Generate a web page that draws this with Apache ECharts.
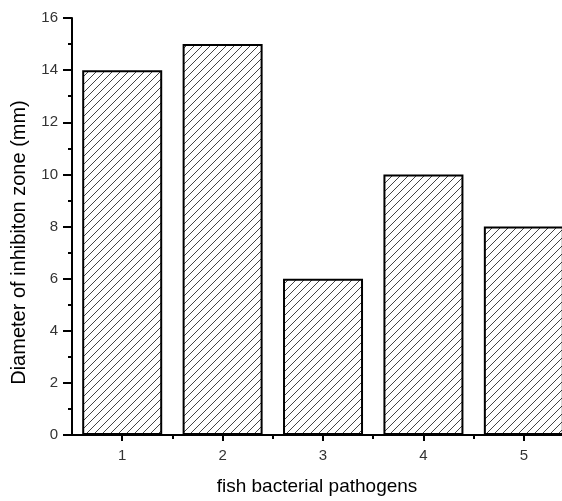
<!DOCTYPE html>
<html>
<head>
<meta charset="utf-8">
<script src="https://cdn.jsdelivr.net/npm/echarts@6/dist/echarts.min.js"></script>
<style>
  html, body { margin: 0; padding: 0; background: #fff; }
  #chart { width: 562px; height: 501px; }
</style>
</head>
<body>
<div id="chart"></div>
<script>
// pathogen number -> inhibition zone diameter (mm)
const pathogens = [1, 2, 3, 4, 5]
const zoneDiameter = [14, 15, 6, 10, 8]
const xMinorTicks = [1.5, 2.5, 3.5, 4.5]
const yTicks = { min: 0, max: 16, interval: 2 }

// hatch pattern for the bars
const makeHatch = () => {
  const size = 8
  const c = document.createElement('canvas')
  c.width = size
  c.height = size
  const ctx = c.getContext('2d')
  ctx.fillStyle = '#fff'
  ctx.fillRect(0, 0, size, size)
  ctx.strokeStyle = '#444'
  ctx.lineWidth = 1
  ctx.beginPath()
  ctx.moveTo(-1, size + 1)
  ctx.lineTo(size + 1, -1)
  ctx.moveTo(-1, 1)
  ctx.lineTo(1, -1)
  ctx.moveTo(size - 1, size + 1)
  ctx.lineTo(size + 1, size - 1)
  ctx.stroke()
  return c
}

const chart = echarts.init(document.getElementById('chart'))
const axisFont = { fontFamily: 'Liberation Sans, Arial, sans-serif' }

chart.setOption({
  backgroundColor: '#fff',
  animation: false,
  grid: { left: 72, top: 18, bottom: 64, right: 0, containLabel: false },
  xAxis: [{
    type: 'value',
    min: 0.5,
    max: 5.38,
    name: 'fish bacterial pathogens',
    nameLocation: 'middle',
    nameGap: 42,
    nameTextStyle: { ...axisFont, fontSize: 19, color: '#000' },
    axisLine: { show: true, lineStyle: { color: '#000', width: 2 } },
    axisTick: { show: true, inside: false, length: 6, customValues: pathogens, lineStyle: { color: '#000', width: 2 } },
    axisLabel: { ...axisFont, fontSize: 15, color: '#333', margin: 13, customValues: pathogens },
    splitLine: { show: false }
  }, {
    type: 'value',
    min: 0.5,
    max: 5.38,
    position: 'bottom',
    axisLine: { show: false },
    axisTick: { show: true, inside: false, length: 4, customValues: xMinorTicks, lineStyle: { color: '#000', width: 2 } },
    axisLabel: { show: false },
    splitLine: { show: false }
  }],
  yAxis: {
    type: 'value',
    min: yTicks.min,
    max: yTicks.max,
    interval: yTicks.interval,
    name: 'Diameter of inhibiton zone (mm)',
    nameLocation: 'middle',
    nameGap: 43,
    nameTextStyle: { ...axisFont, fontSize: 20, color: '#000', padding: [0, 32, 0, 0] },
    axisLine: { show: true, lineStyle: { color: '#000', width: 2 } },
    axisTick: { show: true, inside: false, length: 9, lineStyle: { color: '#000', width: 2 } },
    minorTick: { show: true, splitNumber: 2, length: 4, lineStyle: { color: '#000', width: 2 } },
    axisLabel: { ...axisFont, fontSize: 15, color: '#333', margin: 14 },
    splitLine: { show: false }
  },
  series: [{
    type: 'bar',
    data: pathogens.map((p, i) => [p, zoneDiameter[i]]),
    barWidth: 80,
    itemStyle: {
      color: { image: makeHatch(), repeat: 'repeat' },
      borderColor: '#000',
      borderWidth: 2
    }
  }]
})
</script>
</body>
</html>
